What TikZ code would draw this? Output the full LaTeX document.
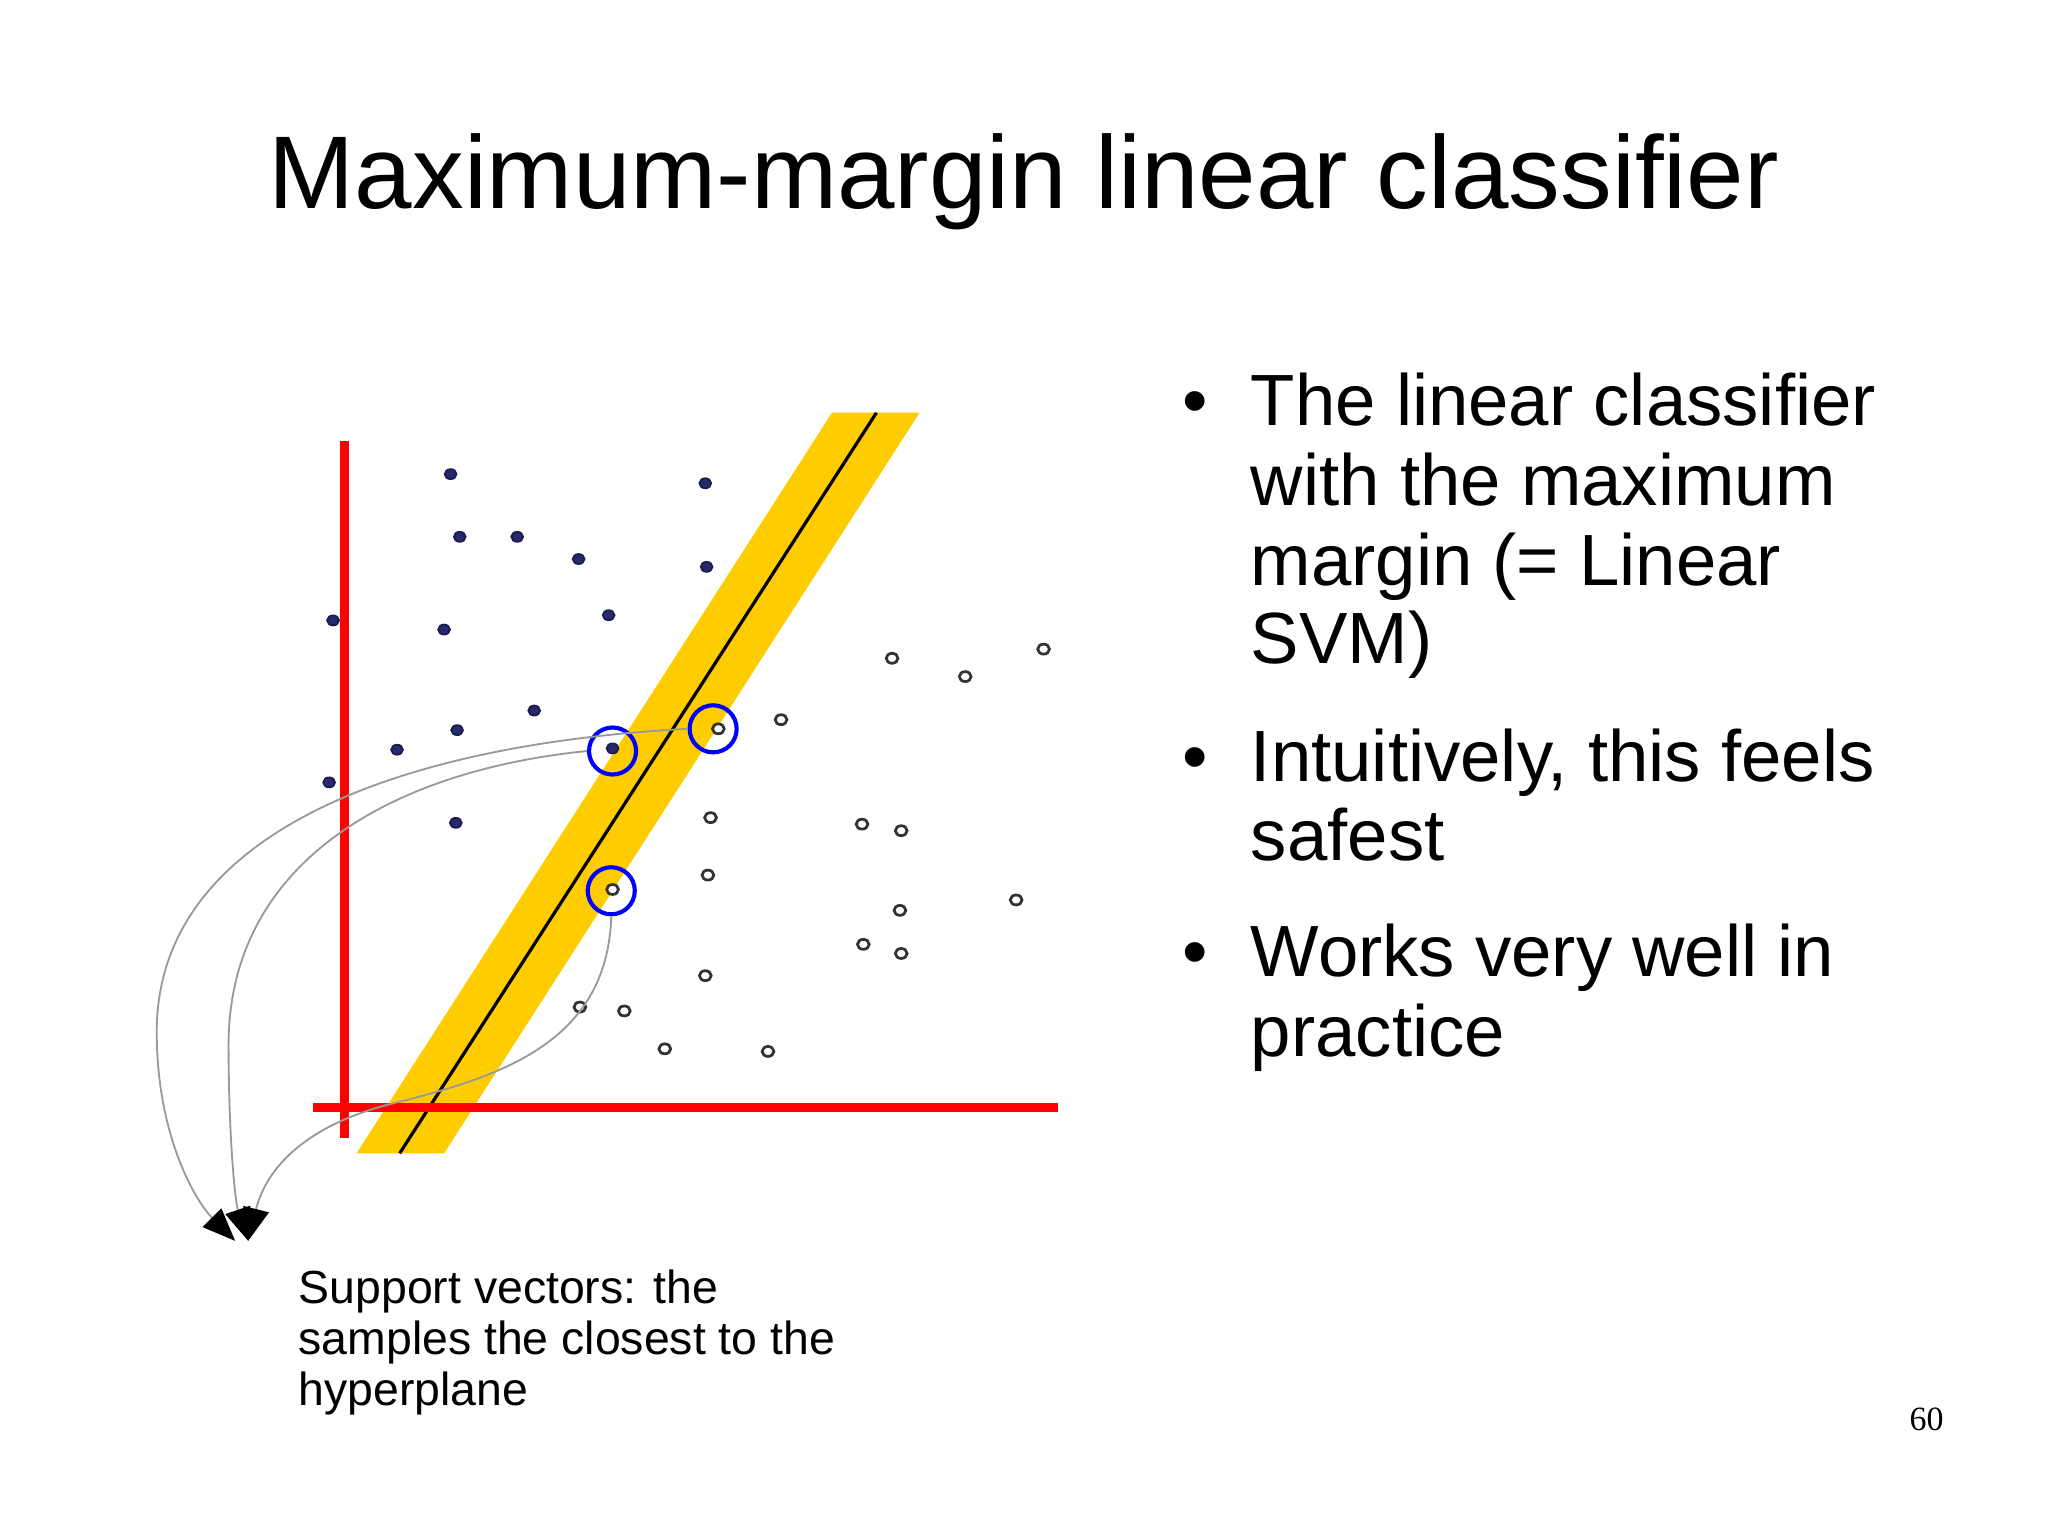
\documentclass[tikz,border=0pt]{standalone}
\usepackage{fontspec}
\setmainfont{Liberation Sans}
\newfontfamily\serifnum{Liberation Serif}
\usetikzlibrary{arrows.meta}
\definecolor{band}{RGB}{255,204,0}
\definecolor{dotc}{RGB}{40,40,110}
\begin{document}
\begin{tikzpicture}[x=0.01cm,y=-0.01cm,
  ln/.style={anchor=base west,inner sep=0pt,font=\fontsize{15.8}{17.4}\selectfont},
  captxt/.style={anchor=base west,inner sep=0pt,font=\fontsize{10.1}{11.1}\selectfont},
  fd/.style={fill=dotc,draw=dotc!70!black,line width=0.4pt},
  od/.style={fill=white,draw=black!80,line width=0.6pt},
  sv/.style={draw=blue,line width=0.9pt,minimum size=0.36cm,circle,inner sep=0pt},
  cur/.style={draw=gray!80,line width=0.4pt,-{Triangle[length=0.25cm,width=0.2cm,fill=black,color=black]}}]
\useasboundingbox (0,0) rectangle (1568,1175);
\node[anchor=base,inner sep=0pt,font=\fontsize{22.5}{26}\selectfont] (title) at (784,160) {Maximum-margin linear classifier};
\fill[band] (637,316) -- (704,316) -- (340,883) -- (273,883) -- cycle;
\draw[line width=0.7pt] (671,316) coordinate (l1) -- (306,883) coordinate (l2);
\draw[red,line width=2pt] (264,338) -- (264,871);
\draw[red,line width=2pt] (240,848) -- (810,848);
\foreach \p in {(345,363),(540,370),(352,411),(396,411),(443,428),(541,434),(466,471),(255,475),(340,482),(409,544),(350,559),(304,574),(469,573),(252,599),(349,630)}
  \path[fd] \p ellipse (4.5 and 3.8);
\foreach \p in {(683,504),(739,518),(799,497),(550,558),(598,551),(544,626),(660,631),(690,636),(542,670),(469,681),(689,697),(778,689),(661,723),(690,730),(540,747),(444,771),(478,774),(509,803),(588,805)}
  \path[od] \p ellipse (4.5 and 3.8);
\node[sv] (s1) at (469,575) {};
\node[sv] (s2) at (546,558) {};
\node[sv] (s3) at (468,682) {};
\coordinate (t1) at (190,950);
\coordinate (t2) at (180,950);
\draw[cur] (s2.west) .. controls (300,570) and (120,640) .. (120,790) .. controls (120,870) and (150,920) .. (t2);
\draw[cur] (s1.west) .. controls (300,590) and (175,660) .. (175,800) .. controls (175,870) and (180,920) .. (t1);
\draw[cur] (s3.south) .. controls (465,800) and (380,825) .. (300,845) .. controls (240,860) and (205,890) .. (t1);
\node[captxt] at (228,998) {Support vectors: the};
\node[captxt] at (228,1037) {samples the closest to the};
\node[captxt] at (228,1076) {hyperplane};
\foreach \y/\t in {326/The linear classifier,387/with the maximum,448/margin (= Linear,508/SVM),598/{Intuitively, this feels},659/safest,748/Works very well in,809/practice}
  \node[ln] at (957,\y) {\t};
\foreach \y in {326,598,748} \node[ln] at (905,\y) {•};
\node[anchor=base,inner sep=0pt,font=\serifnum\fontsize{7.4}{8}\selectfont] at (1475,1095) {60};
\end{tikzpicture}
\end{document}
